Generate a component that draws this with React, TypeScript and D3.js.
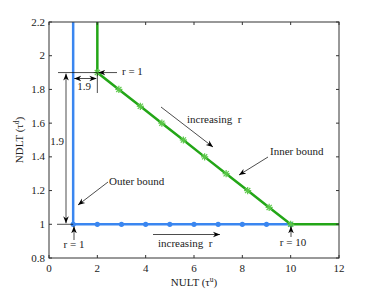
import * as d3 from 'd3';

const W = 374;
const H = 291;
const M = { left: 49, right: 35, top: 22, bottom: 33 };

const xTicks = [0, 2, 4, 6, 8, 10, 12];
const yTicks = [0.8, 1, 1.2, 1.4, 1.6, 1.8, 2, 2.2];

// outer bound (blue)
const outerX = [1, 1, 2, 3, 4, 5, 6, 7, 8, 9, 10];
const outerY = [2.2, 1, 1, 1, 1, 1, 1, 1, 1, 1, 1];
const outerDotX = [1, 2, 3, 4, 5, 6, 7, 8, 9, 10];

// inner bound (green), r = 1..10
const innerX = [2, 2, 2.89, 3.78, 4.67, 5.56, 6.44, 7.33, 8.22, 9.11, 10, 12];
const innerY = [2.2, 1.9, 1.8, 1.7, 1.6, 1.5, 1.4, 1.3, 1.2, 1.1, 1, 1];
const starX = [2, 2.89, 3.78, 4.67, 5.56, 6.44, 7.33, 8.22, 9.11, 10];
const starY = [1.9, 1.8, 1.7, 1.6, 1.5, 1.4, 1.3, 1.2, 1.1, 1];

const BLUE = '#3a86f0';
const GREEN = '#23a617';
const STAR = '#5cc84a';
const FONT = '"Liberation Serif", "Times New Roman", serif';

export default function App() {
  const x = d3.scaleLinear().domain([0, 12]).range([M.left, W - M.right]);
  const y = d3.scaleLinear().domain([0.8, 2.2]).range([H - M.bottom, M.top]);
  const line = d3.line<number>().x((d) => d[0]).y((d) => d[1]);

  const outerPath = line(outerX.map((v, i) => [x(v), y(outerY[i])]) as any) || '';
  const innerPath = line(innerX.map((v, i) => [x(v), y(innerY[i])]) as any) || '';

  const x0 = M.left, x1 = W - M.right, y0 = H - M.bottom, y1 = M.top;

  const star = (cx: number, cy: number, k: number) => {
    const s = 3.6;
    const d = s * 0.72;
    return (
      <g key={k} stroke={STAR} strokeWidth={1.2}>
        <line x1={cx - s} y1={cy} x2={cx + s} y2={cy} />
        <line x1={cx} y1={cy - s} x2={cx} y2={cy + s} />
        <line x1={cx - d} y1={cy - d} x2={cx + d} y2={cy + d} />
        <line x1={cx - d} y1={cy + d} x2={cx + d} y2={cy - d} />
      </g>
    );
  };

  const p19 = y(1.9);
  const p1 = y(1);
  const xOne = x(1);
  const xTwo = x(2);

  return (
    <svg width={W} height={H} style={{ position: 'absolute', left: 0, top: 0, background: '#fff' }} fontFamily={FONT}>
      <defs>
        <marker id="ah" viewBox="0 0 10 10" refX="10" refY="5" markerWidth="7" markerHeight="7" orient="auto-start-reverse" markerUnits="userSpaceOnUse">
          <path d="M0,1 L10,5 L0,9 L3,5 Z" fill="#000" />
        </marker>
      </defs>

      {/* data */}
      <path d={outerPath} fill="none" stroke={BLUE} strokeWidth={2.5} />
      {outerDotX.map((v, i) => (
        <circle key={i} cx={x(v)} cy={y(1)} r={2.6} fill={BLUE} />
      ))}
      <path d={innerPath} fill="none" stroke={GREEN} strokeWidth={2.5} />
      {starX.map((v, i) => star(x(v), y(starY[i]), i))}

      {/* axes box */}
      <rect x={x0} y={y1} width={x1 - x0} height={y0 - y1} fill="none" stroke="#333" strokeWidth={1} />
      {xTicks.map((t) => (
        <g key={t}>
          <line x1={x(t)} x2={x(t)} y1={y0} y2={y0 - 3} stroke="#333" />
          <line x1={x(t)} x2={x(t)} y1={y1} y2={y1 + 3} stroke="#333" />
          <text x={x(t)} y={y0 + 14} textAnchor="middle" fontSize={11} fill="#222">{t}</text>
        </g>
      ))}
      {yTicks.map((t) => (
        <g key={t}>
          <line x1={x0} x2={x0 + 3} y1={y(t)} y2={y(t)} stroke="#333" />
          <line x1={x1} x2={x1 - 3} y1={y(t)} y2={y(t)} stroke="#333" />
          <text x={x0 - 4} y={y(t) + 3.5} textAnchor="end" fontSize={11} fill="#222">{d3.format('~g')(t)}</text>
        </g>
      ))}
      <text x={(x0 + x1) / 2} y={H - 5} textAnchor="middle" fontSize={11} fill="#222">
        NULT (τ<tspan dy={-4} fontSize={7.5}>u</tspan><tspan dy={4}>)</tspan>
      </text>
      <text transform={`translate(23,${(y0 + y1) / 2}) rotate(-90)`} textAnchor="middle" fontSize={11} fill="#222">
        NDLT (τ<tspan dy={-4} fontSize={7.5}>d</tspan><tspan dy={4}>)</tspan>
      </text>

      {/* dimension lines */}
      <g stroke="#000" strokeWidth={0.7} fill="none">
        <line x1={58} x2={xTwo} y1={p19} y2={p19} />
        <line x1={57} x2={xOne} y1={p1} y2={p1} />
        <line x1={xTwo} x2={xTwo} y1={p19} y2={93} />
        <line x1={66} x2={66} y1={p19 + 1} y2={p1 - 1} markerStart="url(#ah)" markerEnd="url(#ah)" />
        <line x1={xOne + 1} x2={xTwo - 1} y1={78.5} y2={78.5} markerStart="url(#ah)" markerEnd="url(#ah)" />
        <line x1={117} x2={xTwo + 1} y1={p19} y2={p19} markerEnd="url(#ah)" />
        <line x1={74} x2={74} y1={240} y2={p1 + 2} markerEnd="url(#ah)" />
        <line x1={108} x2={78} y1={182} y2={205} markerEnd="url(#ah)" />
        <line x1={153} x2={220} y1={234.5} y2={234.5} markerEnd="url(#ah)" />
        <line x1={161} x2={213} y1={107} y2={147} markerEnd="url(#ah)" />
        <line x1={268} x2={239} y1={157} y2={175} markerEnd="url(#ah)" />
        <line x1={291} x2={291} y1={237} y2={p1 + 2} markerEnd="url(#ah)" />
      </g>
      <g fontSize={11} fill="#222" style={{ whiteSpace: 'pre' }}>
        <text x={57} y={145} textAnchor="middle">1.9</text>
        <text x={84} y={90} textAnchor="middle">1.9</text>
        <text x={122} y={75}>r = 1</text>
        <text x={74} y={248} textAnchor="middle">r = 1</text>
        <text x={109} y={185}>Outer bound</text>
        <text x={158} y={247}>{'increasing\u00a0\u00a0r'}</text>
        <text x={187} y={123}>{'increasing\u00a0\u00a0r'}</text>
        <text x={270} y={155}>Inner bound</text>
        <text x={293} y={246} textAnchor="middle">r = 10</text>
      </g>
    </svg>
  );
}
